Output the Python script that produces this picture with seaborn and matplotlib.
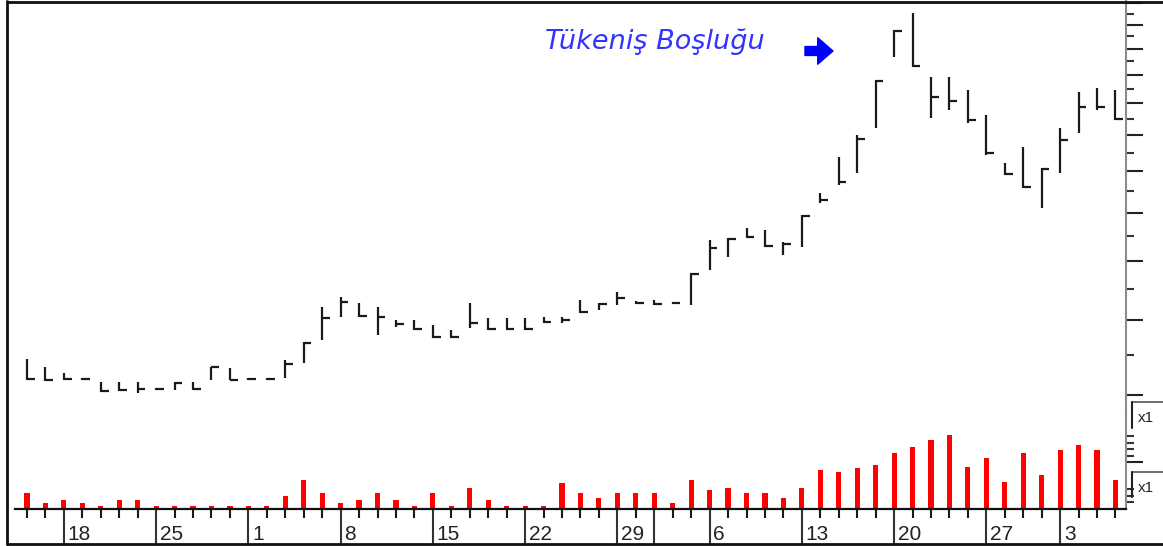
import numpy as np
import pandas as pd
import seaborn as sns
import matplotlib.pyplot as plt
from matplotlib.lines import Line2D
from matplotlib.ticker import FixedLocator, NullFormatter

# Günlük fiyat (yüksek / düşük / kapanış) ve hacim, 60 işlem günü
high = [74.0, 71.9, 70.3, 69.1, 68.1, 68.1, 68.1, 66.7, 68.1, 68.1,
        71.9, 71.6, 69.1, 69.1, 73.7, 78.6, 89.1, 92.4, 90.4, 89.1,
        85.0, 85.0, 83.5, 82.1, 90.4, 85.7, 85.7, 85.7, 86.0, 86.0,
        91.4, 90.4, 94.0, 91.0, 91.4, 90.7, 100.7, 113.3, 114.1, 118.3,
        117.4, 112.5, 123.9, 134.1, 152.5, 165.1, 201.0, 240.5, 255.6, 203.2,
        203.2, 193.9, 177.3, 149.3, 158.1, 146.6, 169.3, 192.6, 195.3, 193.9]
low = [68.6, 68.3, 68.6, 68.6, 65.7, 65.9, 65.5, 66.2, 66.2, 66.2,
       68.6, 68.6, 68.6, 68.6, 69.1, 72.9, 79.2, 86.0, 86.0, 80.6,
       82.9, 82.1, 79.7, 79.7, 82.6, 82.1, 82.1, 82.1, 84.1, 84.1,
       87.2, 88.1, 89.7, 90.1, 89.7, 90.1, 89.7, 101.7, 106.6, 114.1,
       110.5, 107.4, 110.5, 129.4, 138.0, 144.0, 169.3, 218.3, 210.6, 175.4,
       180.5, 172.3, 153.6, 143.0, 136.5, 127.1, 144.0, 166.2, 180.5, 174.2]
close = [68.8, 68.6, 68.8, 68.8, 65.9, 66.2, 66.4, 66.4, 67.9, 66.4,
         71.9, 68.6, 68.8, 68.8, 72.6, 78.3, 85.7, 90.7, 86.3, 86.0,
         83.8, 82.3, 80.0, 80.0, 84.1, 82.3, 82.3, 82.3, 84.4, 85.0,
         87.5, 90.1, 92.0, 90.4, 90.1, 90.4, 100.3, 110.1, 113.7, 114.5,
         110.9, 111.7, 123.5, 130.8, 139.5, 162.7, 200.3, 239.6, 211.4, 189.1,
         186.4, 174.2, 154.7, 143.5, 137.0, 146.1, 162.1, 182.5, 182.5, 174.8]
volume = [48, 18, 26, 18, 10, 26, 26, 10, 10, 10,
          10, 10, 10, 10, 40, 86, 48, 18, 26, 48,
          26, 10, 48, 10, 63, 26, 10, 10, 10, 78,
          48, 33, 48, 48, 48, 18, 86, 56, 63, 48,
          48, 33, 63, 116, 110, 123, 133, 170, 186, 208,
          223, 125, 155, 80, 170, 103, 178, 193, 178, 88]

# tarih etiketleri (haftabaşı) ve ay geçişi
date_pos = [2, 7, 12, 17, 22, 27, 32, 37, 42, 47, 52, 56]
date_labels = ["18", "25", "1", "8", "15", "22", "29", "6", "13", "20", "27", "3"]
month_pos = [34]

price_major = [65, 85, 105, 125, 145, 165, 185, 205, 225, 245, 265]
price_minor = [75, 95, 115, 135, 155, 175, 195, 215, 235, 255]
vol_major = [140]
vol_minor = [20, 40, 60, 160, 180, 200, 220]

W, H = 1163, 546
sns.set_style("white")
plt.rcParams["font.family"] = ["Liberation Sans", "DejaVu Sans"]

fig = plt.figure(figsize=(W / 100, H / 100), dpi=100)
ax_p = fig.add_axes([15 / W, 1 - 412 / H, 1111 / W, 412 / H])
ax_v = fig.add_axes([15 / W, 1 - 509 / H, 1111 / W, 97 / H])

x = np.arange(len(close))

# fiyat çubukları (HLC)
ax_p.vlines(x, low, high, color="#1a1a1a", lw=1.6)
ax_p.hlines(close, x, x + 0.42, color="#1a1a1a", lw=1.6)
ax_p.set_yscale("log")
ax_p.set_ylim(61.16, 267.8)
ax_p.set_xlim(-0.65, 59.57)
ax_p.set_xticks([])
ax_p.yaxis.tick_right()
ax_p.yaxis.set_major_locator(FixedLocator(price_major))
ax_p.yaxis.set_minor_locator(FixedLocator(price_minor))
ax_p.yaxis.set_major_formatter(NullFormatter())
ax_p.yaxis.set_minor_formatter(NullFormatter())
ax_p.tick_params(axis="y", which="major", right=True, length=12, width=1.5, color="#222222")
ax_p.tick_params(axis="y", which="minor", right=True, length=6, width=1.5, color="#333333")
for s in ["top", "left", "bottom"]:
    ax_p.spines[s].set_visible(False)
ax_p.spines["right"].set_color("#8c8c8c")
ax_p.spines["right"].set_linewidth(1.5)

# hacim
df = pd.DataFrame({"bar": x, "volume": volume})
sns.barplot(data=df, x="bar", y="volume", ax=ax_v, color="#ff0000",
            saturation=1, width=0.28, linewidth=0)
ax_v.set_xlim(-0.65, 59.57)
ax_v.set_ylim(0, 292)
ax_v.set_xlabel("")
ax_v.set_ylabel("")
ax_v.yaxis.tick_right()
ax_v.yaxis.set_major_locator(FixedLocator(vol_major))
ax_v.yaxis.set_minor_locator(FixedLocator(vol_minor))
ax_v.yaxis.set_major_formatter(NullFormatter())
ax_v.yaxis.set_minor_formatter(NullFormatter())
ax_v.tick_params(axis="y", which="major", right=True, length=12, width=1.5, color="#222222")
ax_v.tick_params(axis="y", which="minor", right=True, length=6, width=1.5, color="#333333")
ax_v.xaxis.set_major_locator(FixedLocator(date_pos + month_pos))
ax_v.xaxis.set_minor_locator(FixedLocator(list(x)))
ax_v.xaxis.set_major_formatter(NullFormatter())
ax_v.xaxis.set_minor_formatter(NullFormatter())
ax_v.tick_params(axis="x", which="major", bottom=True, length=25, width=1.5, color="#333333")
ax_v.tick_params(axis="x", which="minor", bottom=True, length=6.5, width=1.5, color="#1a1a1a")
for s in ["top", "left"]:
    ax_v.spines[s].set_visible(False)
ax_v.spines["right"].set_color("#8c8c8c")
ax_v.spines["right"].set_linewidth(1.5)
ax_v.spines["bottom"].set_color("#111111")
ax_v.spines["bottom"].set_linewidth(1.6)

for p, lab in zip(date_pos, date_labels):
    ax_v.text(p + 0.2, (509 - 525) / 97, lab, transform=ax_v.get_xaxis_transform(),
              ha="left", va="top", fontsize=15, color="#222222")

# açıklama
fig.text(545 / W, 1 - 42 / H, "Tükeniş Boşluğu", fontsize=19.5, style="italic",
         family="DejaVu Sans", color="#3333ff", ha="left", va="center")
ax_p.annotate("", xy=(833, H - 51), xycoords="figure pixels",
              xytext=(805, H - 51), textcoords="figure pixels",
              arrowprops=dict(arrowstyle="simple,head_length=0.55,head_width=0.95,tail_width=0.32",
                              mutation_scale=20, fc="#0000ff", ec="#0000ff",
                              shrinkA=0, shrinkB=0))

# sağdaki ölçek kutuları
for top, bot, ty in [(402, 428, 418), (472, 497, 488)]:
    fig.add_artist(Line2D([1132 / W, 1], [1 - top / H, 1 - top / H],
                          transform=fig.transFigure, color="#555555", lw=1.2))
    fig.add_artist(Line2D([1132 / W, 1132 / W], [1 - top / H, 1 - bot / H],
                          transform=fig.transFigure, color="#222222", lw=1.5))
    fig.text(1138 / W, 1 - ty / H, "x1", fontsize=11, color="#222222",
             ha="left", va="center")

# çerçeve
frame = dict(transform=fig.transFigure, color="#111111", lw=2)
fig.add_artist(Line2D([6.5 / W, 6.5 / W], [1 - 1 / H, 1 - 544 / H], **frame))
fig.add_artist(Line2D([6.5 / W, 1], [1 - 1.5 / H, 1 - 1.5 / H], **frame))
fig.add_artist(Line2D([6.5 / W, 1], [1 - 543.5 / H, 1 - 543.5 / H], **frame))

fig.savefig("out.png", dpi=100)
